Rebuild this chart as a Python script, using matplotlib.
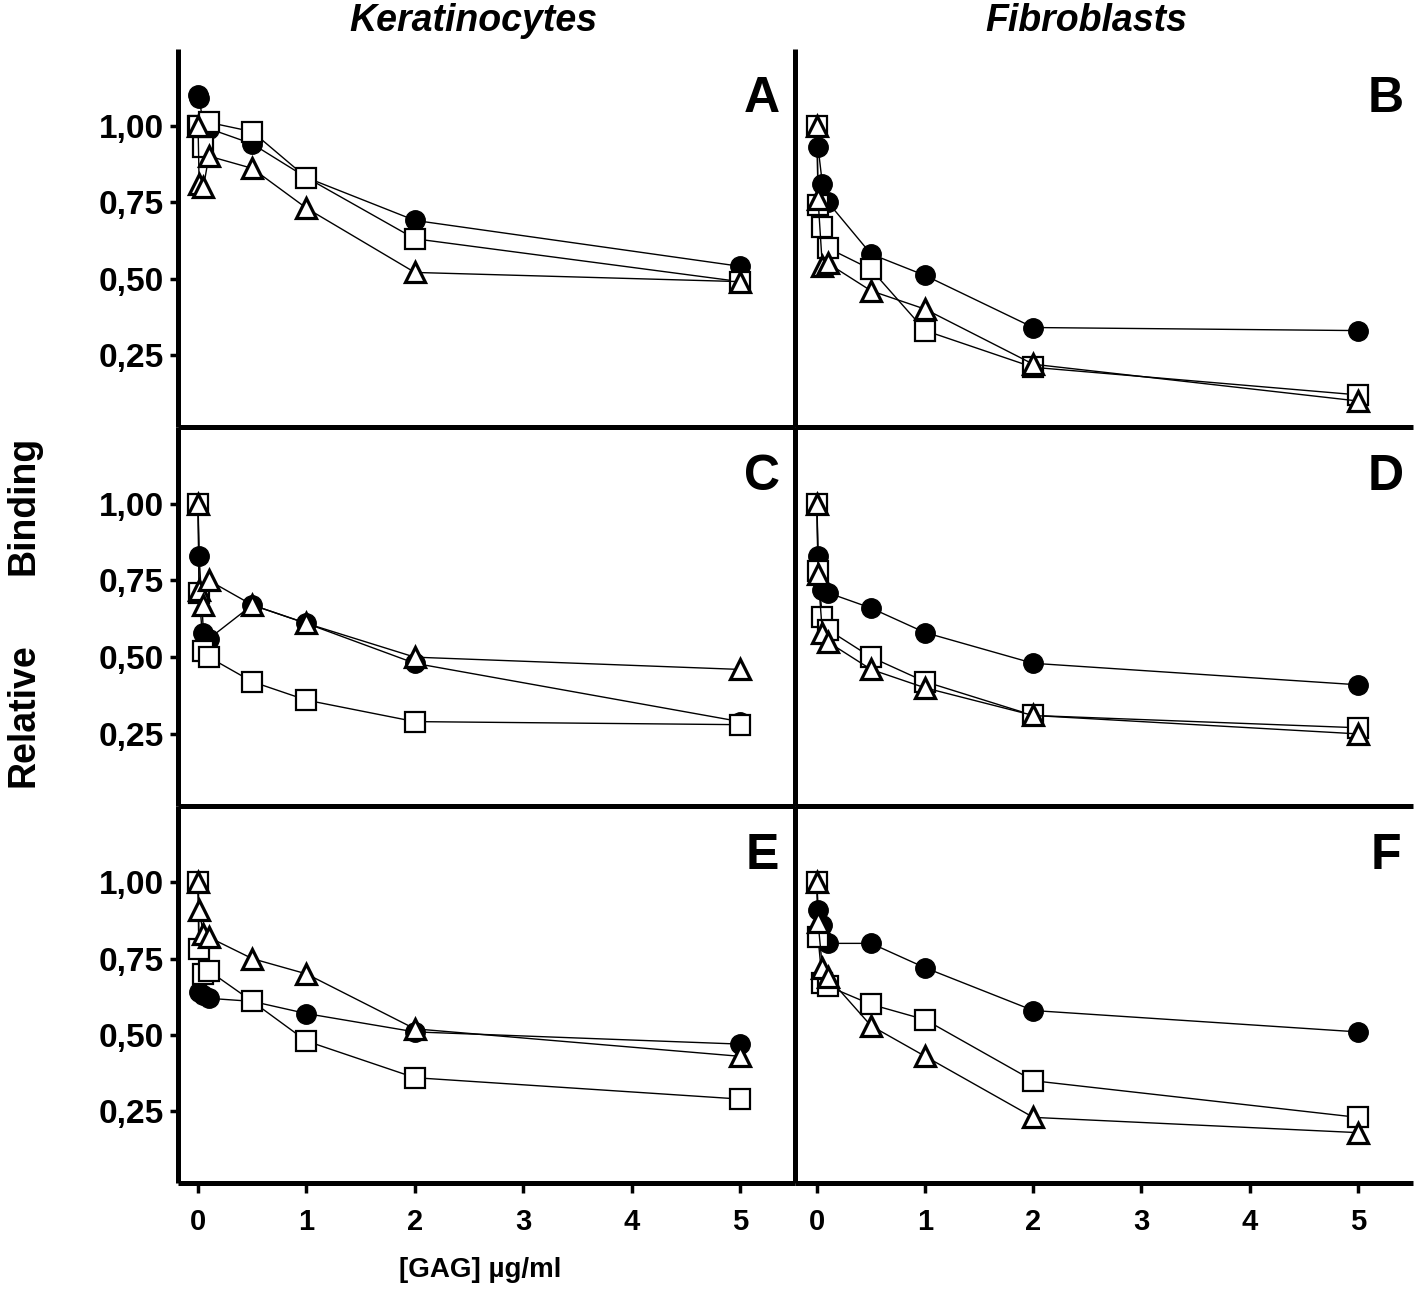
import matplotlib
matplotlib.use("Agg")
import matplotlib.pyplot as plt

plt.rcParams['font.family'] = ['Liberation Sans', 'DejaVu Sans']

# GAG concentration (µg/ml)
x_conc = [0, 0.01, 0.05, 0.1, 0.5, 1, 2, 5]

panel_letters = ["A", "B", "C", "D", "E", "F"]
column_titles = ["Keratinocytes", "Fibroblasts"]

# Relative binding, per panel: filled circles, open squares, open triangles
A_circle = [1.10, 1.09, 1.00, 0.99, 0.94, 0.83, 0.69, 0.54]
A_square = [1.00, 1.00, 0.93, 1.01, 0.98, 0.83, 0.63, 0.49]
A_triangle = [1.00, 0.81, 0.80, 0.90, 0.86, 0.73, 0.52, 0.49]

B_circle = [1.00, 0.93, 0.81, 0.75, 0.58, 0.51, 0.34, 0.33]
B_square = [1.00, 0.74, 0.67, 0.60, 0.53, 0.33, 0.21, 0.12]
B_triangle = [1.00, 0.76, 0.54, 0.55, 0.46, 0.40, 0.22, 0.10]

C_circle = [1.00, 0.83, 0.58, 0.56, 0.67, 0.61, 0.48, 0.29]
C_square = [1.00, 0.71, 0.52, 0.50, 0.42, 0.36, 0.29, 0.28]
C_triangle = [1.00, 0.72, 0.67, 0.75, 0.67, 0.61, 0.50, 0.46]

D_circle = [1.00, 0.83, 0.72, 0.71, 0.66, 0.58, 0.48, 0.41]
D_square = [1.00, 0.78, 0.63, 0.59, 0.50, 0.42, 0.31, 0.27]
D_triangle = [1.00, 0.77, 0.58, 0.55, 0.46, 0.40, 0.31, 0.25]

E_circle = [1.00, 0.64, 0.63, 0.62, 0.61, 0.57, 0.51, 0.47]
E_square = [1.00, 0.78, 0.70, 0.71, 0.61, 0.48, 0.36, 0.29]
E_triangle = [1.00, 0.91, 0.83, 0.82, 0.75, 0.70, 0.52, 0.43]

F_circle = [1.00, 0.91, 0.86, 0.80, 0.80, 0.72, 0.58, 0.51]
F_square = [1.00, 0.82, 0.67, 0.66, 0.60, 0.55, 0.35, 0.23]
F_triangle = [1.00, 0.87, 0.72, 0.69, 0.53, 0.43, 0.23, 0.18]

y_ticks = [0.25, 0.50, 0.75, 1.00]
y_tick_labels = ["0,25", "0,50", "0,75", "1,00"]
x_ticks = [0, 1, 2, 3, 4, 5]
x_tick_labels = ["0", "1", "2", "3", "4", "5"]

panels = [
    (A_circle, A_square, A_triangle),
    (B_circle, B_square, B_triangle),
    (C_circle, C_square, C_triangle),
    (D_circle, D_square, D_triangle),
    (E_circle, E_square, E_triangle),
    (F_circle, F_square, F_triangle),
]

W, H = 1416, 1310
fig = plt.figure(figsize=(W / 100, H / 100), dpi=100)

col_px = [(178, 795), (795, 1413)]
row_px = [(49, 427), (427, 806), (806, 1183)]
SPW = 3.6

for i, (circ, sq, tri) in enumerate(panels):
    r, c = divmod(i, 2)
    x0, x1 = col_px[c]
    y0, y1 = row_px[r]
    ax = fig.add_axes([x0 / W, 1 - y1 / H, (x1 - x0) / W, (y1 - y0) / H])
    ax.set_facecolor("none")
    ax.plot(x_conc, circ, color="black", lw=1.0, marker="o", ms=14,
            mfc="black", mec="black", mew=1.0, zorder=3, clip_on=False)
    ax.plot(x_conc, sq, color="black", lw=1.0, marker="s", ms=14,
            mfc="white", mec="black", mew=1.6, zorder=4, clip_on=False)
    ax.plot(x_conc, tri, color="black", lw=1.0, marker="^", ms=14,
            mfc="white", mec="black", mew=2.3, zorder=5, clip_on=False)
    if c == 0:
        ax.set_xlim(-0.185, 5.507)
    else:
        ax.set_xlim(-0.203, 5.51)
    ax.set_ylim(0.015, 1.25)
    for s in ["top", "right"]:
        ax.spines[s].set_visible(False)
    for s in ["left", "bottom"]:
        ax.spines[s].set_linewidth(SPW)
        ax.spines[s].set_color("black")
        ax.spines[s].set_capstyle("butt")
    if c == 0:
        ax.set_yticks(y_ticks)
        ax.set_yticklabels(y_tick_labels, fontsize=24, fontweight="bold")
        ax.tick_params(axis="y", direction="out", length=6, width=2.5, pad=4)
    else:
        ax.set_yticks([])
    if r == 2:
        ax.set_xticks(x_ticks)
        ax.set_xticklabels(x_tick_labels, fontsize=21, fontweight="bold")
        ax.tick_params(axis="x", direction="out", length=7, width=2.5, pad=11)
    else:
        ax.set_xticks([])
    lx = 0.947 if c == 0 else 0.956
    ax.text(lx, 0.833, panel_letters[i], transform=ax.transAxes,
            ha="center", va="baseline", fontsize=36, fontweight="bold")

fig.text(473 / W, 1 - 31 / H, column_titles[0], ha="center", va="baseline",
         fontsize=27, fontweight="bold", fontstyle="italic")
fig.text(1086 / W, 1 - 31 / H, column_titles[1], ha="center", va="baseline",
         fontsize=27, fontweight="bold", fontstyle="italic")

fig.text(23 / W, 1 - 715 / H, "Relative", rotation=90, ha="center",
         va="center", fontsize=27, fontweight="bold")
fig.text(23 / W, 1 - 505 / H, "Binding", rotation=90, ha="center",
         va="center", fontsize=27, fontweight="bold")

fig.text(480 / W, 1 - 1270 / H, "[GAG] \u00b5g/ml", ha="center", va="center",
         fontsize=20, fontweight="bold")

fig.savefig("out.png", dpi=100, facecolor="white")
